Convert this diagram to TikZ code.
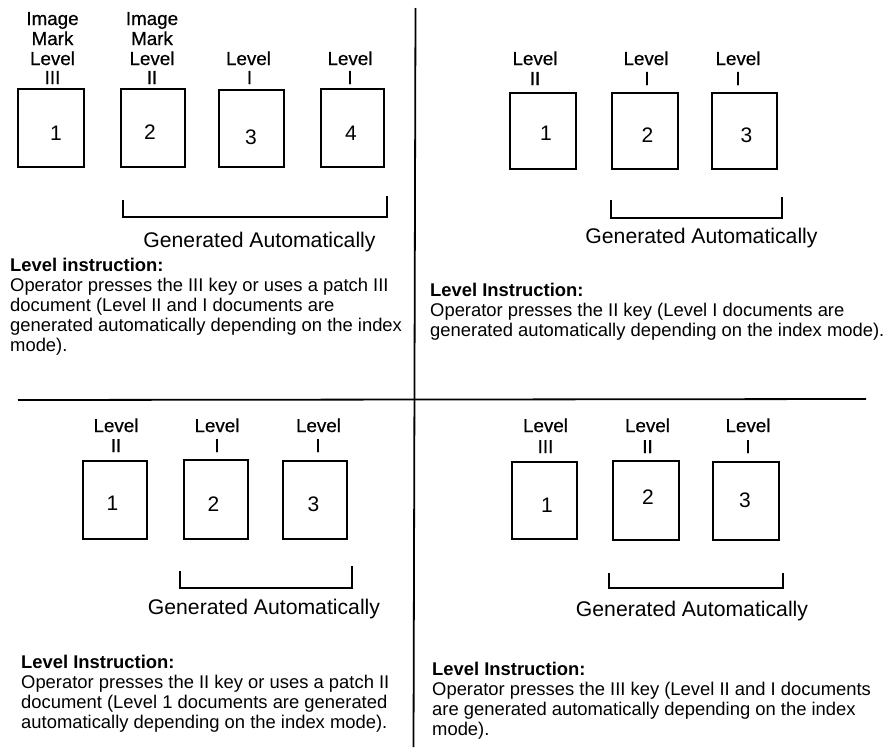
\documentclass[tikz,border=0pt]{standalone}
\usepackage{fontspec}
\setmainfont{Liberation Sans}
\newfontfamily\lblfont[FakeBold=0.7]{Liberation Sans}
\begin{document}
\begin{tikzpicture}[x=1pt,y=-1pt,
  pagebox/.style={draw, line width=1.5pt, inner sep=0pt},
  num/.style={inner sep=0pt, font=\fontsize{21}{21}\selectfont},
  lbl/.style={inner sep=0pt, anchor=base, font=\lblfont\fontsize{18.8}{20}\selectfont},
  ga/.style={inner sep=0pt, anchor=base, font=\fontsize{21.2}{24}\selectfont},
  head/.style={inner sep=0pt, anchor=base west, font=\fontsize{18.4}{20}\selectfont\bfseries},
  body/.style={inner sep=0pt, anchor=base west, font=\fontsize{18.4}{20}\selectfont},
  divider/.style={line width=1.8pt},
  brk/.style={line width=1.4pt}]
\useasboundingbox (0,0) rectangle (896,747);

% dividers
\coordinate (vt) at (415.5,8);
\coordinate (vb) at (413.5,747);
\coordinate (hl) at (18,400);
\coordinate (hr) at (866,399);
\draw[divider] (vt) -- (vb);
\draw[divider] (hl) -- (hr);

%% ---------- top left ----------
\node[pagebox, minimum width=66pt, minimum height=78pt] (a1) at (51,128) {};
\node[pagebox, minimum width=64pt, minimum height=78pt] (a2) at (153,128) {};
\node[pagebox, minimum width=65pt, minimum height=77pt] (a3) at (251.5,128.5) {};
\node[pagebox, minimum width=63pt, minimum height=78pt] (a4) at (352.5,128) {};
\node[num] (a1n) at (56,133) {1};
\node[num] (a2n) at (150,132) {2};
\node[num] (a3n) at (251,137) {3};
\node[num] (a4n) at (351,133) {4};
\node[lbl] (a1l1) at (52.5,25) {Image};
\node[lbl] (a1l2) at (52.5,45) {Mark};
\node[lbl] (a1l3) at (52.5,65) {Level};
\node[lbl] (a1l4) at (52.5,84) {III};
\node[lbl] (a2l1) at (152,25) {Image};
\node[lbl] (a2l2) at (152,45) {Mark};
\node[lbl] (a2l3) at (152,65) {Level};
\node[lbl] (a2l4) at (152,84) {II};
\node[lbl] (a3l1) at (248.5,65) {Level};
\node[lbl] (a3l2) at (249.5,84) {I};
\node[lbl] (a4l1) at (350,65) {Level};
\node[lbl] (a4l2) at (350,84) {I};
\coordinate (ab1) at (123,200);
\coordinate (ab2) at (123,217);
\coordinate (ab3) at (387,217);
\coordinate (ab4) at (387,196);
\draw[brk] (ab1) -- (ab2) -- (ab3) -- (ab4);
\node[ga] (aga) at (259.5,247) {Generated Automatically};
\node[head] (ah) at (10,271) {Level instruction:};
\node[body] (ab1t) at (10,291) {Operator presses the III key or uses a patch III};
\node[body] (ab2t) at (10,311) {document (Level II and I documents are};
\node[body] (ab3t) at (10,331) {generated automatically depending on the index};
\node[body] (ab4t) at (10,351) {mode).};

%% ---------- top right ----------
\node[pagebox, minimum width=66pt, minimum height=76pt] (b1) at (543,131) {};
\node[pagebox, minimum width=66pt, minimum height=76pt] (b2) at (645,131) {};
\node[pagebox, minimum width=65pt, minimum height=76pt] (b3) at (744.5,131) {};
\node[num] (b1n) at (546,133.5) {1};
\node[num] (b2n) at (647.5,135) {2};
\node[num] (b3n) at (746.5,135.5) {3};
\node[lbl] (b1l1) at (535,65) {Level};
\node[lbl] (b1l2) at (535,85) {II};
\node[lbl] (b2l1) at (646,65) {Level};
\node[lbl] (b2l2) at (647,85) {I};
\node[lbl] (b3l1) at (738,65) {Level};
\node[lbl] (b3l2) at (738,85) {I};
\coordinate (bb1) at (611,200);
\coordinate (bb2) at (611,218);
\coordinate (bb3) at (782,218);
\coordinate (bb4) at (782,197);
\draw[brk] (bb1) -- (bb2) -- (bb3) -- (bb4);
\node[ga] (bga) at (701.5,243) {Generated Automatically};
\node[head] (bh) at (430,296) {Level Instruction:};
\node[body] (bb1t) at (430,316) {Operator presses the II key (Level I documents are};
\node[body] (bb2t) at (430,336) {generated automatically depending on the index mode).};

%% ---------- bottom left ----------
\node[pagebox, minimum width=64pt, minimum height=78pt] (c1) at (115,500) {};
\node[pagebox, minimum width=64pt, minimum height=79pt] (c2) at (216,499.5) {};
\node[pagebox, minimum width=64pt, minimum height=78pt] (c3) at (315,500) {};
\node[num] (c1n) at (112.5,503.5) {1};
\node[num] (c2n) at (213.5,504) {2};
\node[num] (c3n) at (313.5,504) {3};
\node[lbl] (c1l1) at (116,432) {Level};
\node[lbl] (c1l2) at (116,452) {II};
\node[lbl] (c2l1) at (217,432) {Level};
\node[lbl] (c2l2) at (217,452) {I};
\node[lbl] (c3l1) at (318.5,432) {Level};
\node[lbl] (c3l2) at (318,452) {I};
\coordinate (cb1) at (180,571);
\coordinate (cb2) at (180,588);
\coordinate (cb3) at (352,588);
\coordinate (cb4) at (352,566);
\draw[brk] (cb1) -- (cb2) -- (cb3) -- (cb4);
\node[ga] (cga) at (264,614) {Generated Automatically};
\node[head] (ch) at (21,668) {Level Instruction:};
\node[body] (cb1t) at (21,688) {Operator presses the II key or uses a patch II};
\node[body] (cb2t) at (21,708) {document (Level 1 documents are generated};
\node[body] (cb3t) at (21,728) {automatically depending on the index mode).};

%% ---------- bottom right ----------
\node[pagebox, minimum width=65pt, minimum height=77pt] (d1) at (544.5,500.5) {};
\node[pagebox, minimum width=66pt, minimum height=79pt] (d2) at (646,500.5) {};
\node[pagebox, minimum width=66pt, minimum height=78pt] (d3) at (746,501) {};
\node[num] (d1n) at (547,505) {1};
\node[num] (d2n) at (648,497.5) {2};
\node[num] (d3n) at (745,500.5) {3};
\node[lbl] (d1l1) at (545.5,432) {Level};
\node[lbl] (d1l2) at (545.5,453) {III};
\node[lbl] (d2l1) at (647.5,432) {Level};
\node[lbl] (d2l2) at (647.5,453) {II};
\node[lbl] (d3l1) at (748,432) {Level};
\node[lbl] (d3l2) at (748,453) {I};
\coordinate (db1) at (609,573);
\coordinate (db2) at (609,588);
\coordinate (db3) at (783,588);
\coordinate (db4) at (783,573);
\draw[brk] (db1) -- (db2) -- (db3) -- (db4);
\node[ga] (dga) at (692,616) {Generated Automatically};
\node[head] (dh) at (432,675) {Level Instruction:};
\node[body] (db1t) at (432,695) {Operator presses the III key (Level II and I documents};
\node[body] (db2t) at (432,715) {are generated automatically depending on the index};
\node[body] (db3t) at (432,735) {mode).};
\end{tikzpicture}
\end{document}
